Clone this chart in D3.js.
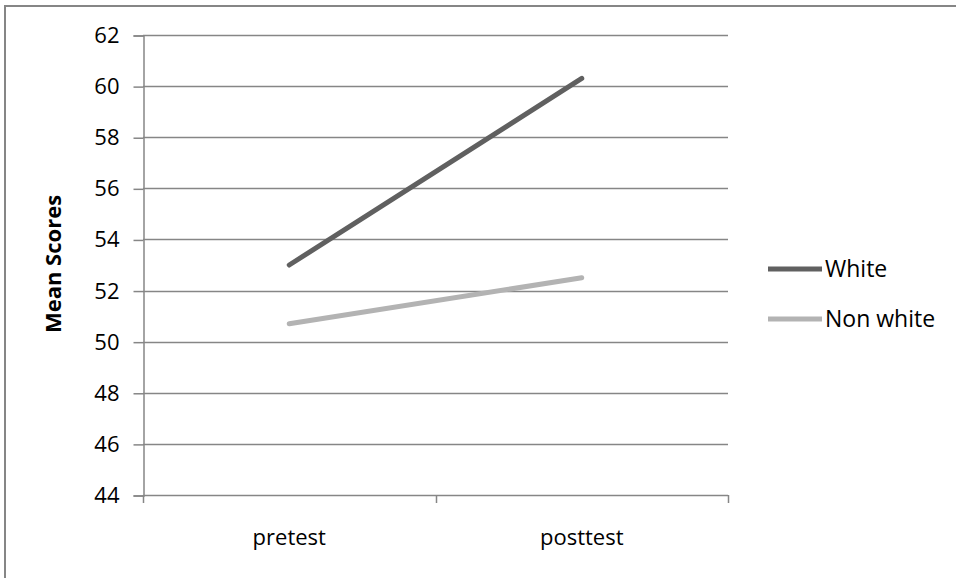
<!DOCTYPE html>
<html>
<head>
<meta charset="utf-8">
<script src="https://cdn.jsdelivr.net/npm/d3@7/dist/d3.min.js"></script>
<style>
  html, body { margin: 0; padding: 0; background: #fff; }
  svg { display: block; }
  text { font-family: "Open Sans", sans-serif; fill: #000; }
</style>
</head>
<body>
<svg id="chart" width="956" height="578"></svg>
<script>
const categories = ["pretest", "posttest"];
const seriesNames = ["White", "Non white"];
const whiteValues = [53.0, 60.3];
const nonWhiteValues = [50.7, 52.5];
const yTicks = [44, 46, 48, 50, 52, 54, 56, 58, 60, 62];
const yTitle = "Mean Scores";

(function () {
const series = [
  { name: seriesNames[0], values: whiteValues, color: "#606060" },
  { name: seriesNames[1], values: nonWhiteValues, color: "#b3b3b3" }
];

const svg = d3.select("#chart");
const pLeft = 143, pRight = 728, pTop = 35, pBottom = 495;
const gridColor = "#868686";
const fs = "22px";

// outer frame (top and left edges visible)
svg.append("line").attr("x1", 5).attr("x2", 956).attr("y1", 6).attr("y2", 6)
  .attr("stroke", gridColor).attr("stroke-width", 2);
svg.append("line").attr("x1", 5).attr("x2", 5).attr("y1", 5).attr("y2", 578)
  .attr("stroke", gridColor).attr("stroke-width", 2);

const x = d3.scaleBand().domain(categories).range([pLeft, pRight]).padding(0);
const y = d3.scaleLinear().domain([44, 62]).range([pBottom, pTop]);

// gridlines
svg.append("g").selectAll("line").data(yTicks).join("line")
  .attr("x1", pLeft).attr("x2", pRight)
  .attr("y1", d => Math.round(y(d)) + 0.5).attr("y2", d => Math.round(y(d)) + 0.5)
  .attr("stroke", gridColor).attr("stroke-width", 1.5);

// y axis
const yAxis = d3.axisLeft(y).tickValues(yTicks).tickSize(10).tickPadding(14);
const gy = svg.append("g").attr("transform", `translate(${pLeft + 0.5},0.5)`).call(yAxis);
gy.select(".domain").attr("stroke", gridColor).attr("stroke-width", 1.5);
gy.selectAll(".tick line").attr("stroke", gridColor).attr("stroke-width", 1.5);
gy.selectAll(".tick text").style("font-family", "'Open Sans', sans-serif")
  .style("font-size", fs).attr("fill", "#000");

// x axis
const xAxis = d3.axisBottom(x).tickSize(0).tickPadding(34);
const gx = svg.append("g").attr("transform", `translate(0,${Math.round(pBottom) + 0.5})`).call(xAxis);
gx.select(".domain").remove();
gx.selectAll(".tick text").style("font-family", "'Open Sans', sans-serif")
  .style("font-size", fs).attr("fill", "#000");
// category boundary ticks
const bounds = [pLeft, pLeft + x.bandwidth(), pRight];
svg.append("g").selectAll("line").data(bounds).join("line")
  .attr("x1", d => Math.round(d) + 0.5).attr("x2", d => Math.round(d) + 0.5)
  .attr("y1", pBottom).attr("y2", pBottom + 8)
  .attr("stroke", gridColor).attr("stroke-width", 1.5);

// y title
svg.append("text")
  .attr("transform", `translate(61,264) rotate(-90)`)
  .attr("text-anchor", "middle")
  .style("font-size", "22px").style("font-weight", "bold")
  .text(yTitle);

// lines
const line = d3.line()
  .x((d, i) => x(categories[i]) + x.bandwidth() / 2)
  .y(d => y(d));
svg.append("g").selectAll("path").data(series).join("path")
  .attr("d", d => line(d.values))
  .attr("fill", "none")
  .attr("stroke", d => d.color)
  .attr("stroke-width", 5)
  .attr("stroke-linecap", "round");

// legend
const lg = svg.append("g").selectAll("g").data(series).join("g")
  .attr("transform", (d, i) => `translate(768,${269 + i * 50})`);
lg.append("line").attr("x1", 0).attr("x2", 54).attr("y1", 0).attr("y2", 0)
  .attr("stroke", d => d.color).attr("stroke-width", 5);
lg.append("text").attr("x", 57).attr("y", 0).attr("dy", "0.35em")
  .style("font-size", "23px").text(d => d.name);
})();
</script>
</body>
</html>
